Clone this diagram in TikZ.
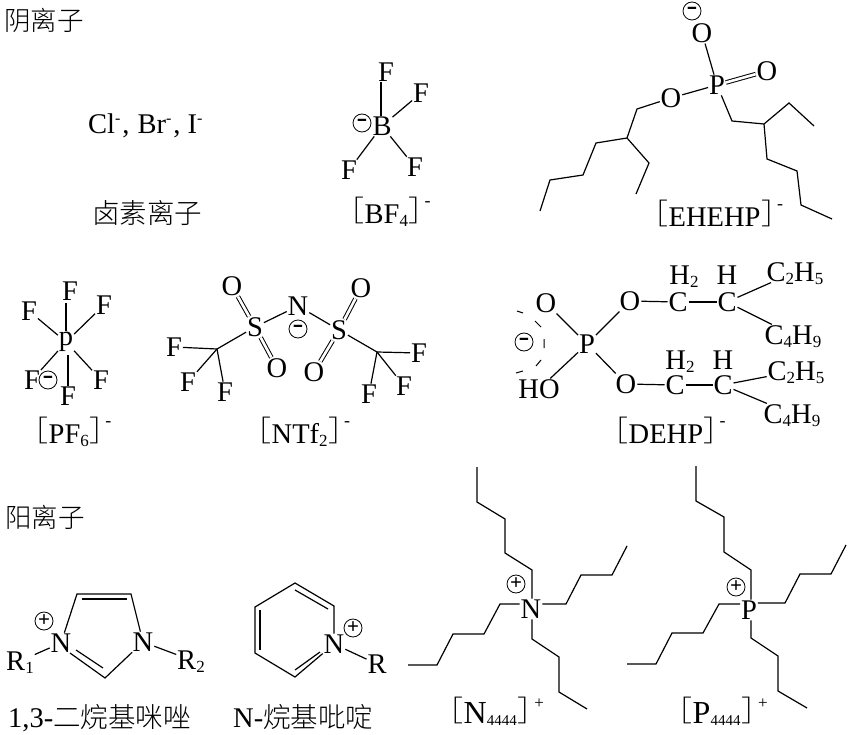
\documentclass[tikz,border=0pt]{standalone}
\usepackage{fontspec}
\setmainfont{Liberation Serif}
\newfontfamily\cjk{Noto Sans CJK SC Light}
\newcommand\sbs[1]{\raisebox{-3.5pt}[0pt][0pt]{\fontsize{17}{17}\selectfont #1}}
\newcommand\sbt[1]{\raisebox{-2.5pt}[0pt][0pt]{\fontsize{15}{15}\selectfont #1}}
\newcommand\lbr{\raisebox{1.5pt}{\fontsize{29}{29}\selectfont\cjk ［}\kern0.5pt}
\newcommand\rbr{\kern0.5pt\raisebox{1.5pt}{\fontsize{29}{29}\selectfont\cjk ］}}
\newcommand\supm{\kern-13pt\raisebox{17pt}{\fontsize{18}{18}\selectfont -}}
\newcommand\supp{\kern-12pt\raisebox{15pt}{\fontsize{17}{17}\selectfont +}}
\newcommand\hsup{\raisebox{10pt}{\fontsize{16}{16}\selectfont -}}
\newcommand\mns{\raisebox{-2pt}{\fontsize{26}{26}\selectfont\bfseries\scalebox{1.25}[1]{-}}}
\tikzset{
  atom/.style={inner sep=1pt,outer sep=0pt,font=\fontsize{28.5}{28.5}\selectfont},
  head/.style={inner sep=0pt,font=\fontsize{26.5}{27}\selectfont\cjk},
  lbl/.style={inner sep=0pt,anchor=base west,font=\fontsize{28.5}{28.5}\selectfont},
  chg/.style={circle,draw,line width=0.8pt,inner sep=0pt,minimum size=18pt,font=\fontsize{21}{21}\selectfont\bfseries},
  bond/.style={line width=1.2pt,line join=miter},
  dbl/.style={double,double distance=2.6pt,line width=1pt},
}
\begin{document}
\begin{tikzpicture}[x=1pt,y=-1pt]
\useasboundingbox (0,0) rectangle (850,735);
% headings
\node[head] (h1) at (44,20) {阴离子};
\node[head] (h2) at (45,517) {阳离子};
% halide
\node[lbl] (hal) at (88,134) {Cl\hsup\kern2pt,\kern8pt Br\hsup\kern2pt,\kern7pt I\hsup};
\node[head,font=\fontsize{27.5}{28}\selectfont\cjk] (hallbl) at (147,213) {卤素离子};
% BF4
\node[atom] (B) at (382,126) {B};
\node[atom] (bf1) at (386,72) {F};
\node[atom] (bf2) at (421,93) {F};
\node[atom] (bf3) at (349,170) {F};
\node[atom] (bf4) at (415,167) {F};
\node[chg] (bfc) at (362,123) {\mns};
\draw[bond] (B.north -| 381,0) -- (bf1.south -| 381,0);
\draw[bond] (B) -- (bf2);
\draw[bond] (B) -- (bf3);
\draw[bond] (B) -- (bf4);
\node[lbl] (bfl) at (335,223) {\lbr BF\sbs{4}\rbr\supm};
% EHEHP
\node[atom] (eP) at (717,85) {P};
\node[atom] (eO1) at (702,33) {O};
\node[atom] (eO2) at (767,71) {O};
\node[atom] (eO3) at (671,98) {O};
\node[chg] (ec) at (692,11) {\mns};
\coordinate (ea1) at (637,109);
\coordinate (ea2) at (627,138);
\coordinate (ea3) at (596,143);
\coordinate (ea4) at (583,175);
\coordinate (ea5) at (550,180);
\coordinate (ea6) at (540,211);
\coordinate (ea7) at (649,163);
\coordinate (ea8) at (636,194);
\coordinate (eb1) at (732,121);
\coordinate (eb2) at (764,124);
\coordinate (eb3) at (789,103);
\coordinate (eb4) at (814,126);
\coordinate (eb5) at (767,159);
\coordinate (eb6) at (797,171);
\coordinate (eb7) at (801,205);
\coordinate (eb8) at (832,219);
\draw[bond] (eO1) -- (eP);
\draw[dbl] (eP) -- (eO2);
\draw[bond] (eP) -- (eO3);
\draw[bond] (eO3) -- (ea1) -- (ea2) -- (ea3) -- (ea4) -- (ea5) -- (ea6);
\draw[bond] (ea2) -- (ea7) -- (ea8);
\draw[bond] (eP) -- (eb1) -- (eb2) -- (eb3) -- (eb4);
\draw[bond] (eb2) -- (eb5) -- (eb6) -- (eb7) -- (eb8);
\node[lbl] (el) at (639,226) {\lbr EHEHP\rbr\supm};
% PF6
\node[atom] (pP) at (66,342) {p};
\node[atom] (pf1) at (70,291) {F};
\node[atom] (pf2) at (29,311) {F};
\node[atom] (pf3) at (104,305) {F};
\node[atom] (pf4) at (32,380) {F};
\node[atom] (pf5) at (101,380) {F};
\node[atom] (pf6) at (68,396) {F};
\node[chg] (pc) at (48,380) {\mns};
\draw[bond] (66,331) -- (66,303);
\draw[bond] (pP) -- (pf2);
\draw[bond] (pP) -- (pf3);
\draw[bond] (pP) -- (pf4);
\draw[bond] (pP) -- (pf5);
\draw[bond] (68,355) -- (pf6.north -| 68,0);
\node[lbl] (pl) at (19,443) {\lbr PF\sbs{6}\rbr\supm};
% NTf2
\node[atom] (nO1) at (232,286) {O};
\node[atom] (nS1) at (255,327) {S};
\node[atom] (nN) at (298,306) {N};
\node[chg] (nc) at (298,329) {\mns};
\node[atom] (nS2) at (339,330) {S};
\node[atom] (nO2) at (361,288) {O};
\node[atom] (nO3) at (277,368) {O};
\node[atom] (nO4) at (314,372) {O};
\coordinate (nC1) at (217,349);
\coordinate (nC2) at (377,352);
\node[atom] (nf1) at (174,347) {F};
\node[atom] (nf2) at (188,382) {F};
\node[atom] (nf3) at (225,392) {F};
\node[atom] (nf4) at (419,353) {F};
\node[atom] (nf5) at (404,386) {F};
\node[atom] (nf6) at (369,394) {F};
\draw[dbl] (nS1) -- (nO1);
\draw[dbl] (nS1) -- (nO3);
\draw[dbl] (nS2) -- (nO2);
\draw[dbl] (nS2) -- (nO4);
\draw[bond] (nS1) -- (nN);
\draw[bond] (nN) -- (nS2);
\draw[bond] (nS1) -- (nC1);
\draw[bond] (nC1) -- (nf1);
\draw[bond] (nC1) -- (nf2);
\draw[bond] (nC1) -- (nf3);
\draw[bond] (nS2) -- (nC2);
\draw[bond] (nC2) -- (nf4);
\draw[bond] (nC2) -- (nf5);
\draw[bond] (nC2) -- (nf6);
\node[lbl] (nl) at (242,443) {\lbr NTf\sbs{2}\rbr\supm};
% DEHP
\node[atom] (dP) at (587,344) {P};
\node[atom] (dO1) at (546,303) {O};
\node[atom] (dHO) at (539,389) {HO};
\node[atom] (dO2) at (630,301) {O};
\node[atom] (dO3) at (626,384) {O};
\node[atom] (dC1) at (678,302) {C};
\node[atom] (dC2) at (727,302) {C};
\node[atom] (dH1) at (684,275) {H\sbs{2}};
\node[atom] (dH2) at (727,275) {H};
\node[atom] (dR1) at (795,272) {C\sbs{2}H\sbs{5}};
\node[atom] (dR2) at (793,335) {C\sbs{4}H\sbs{9}};
\node[atom] (dC3) at (675,385) {C};
\node[atom] (dC4) at (723,385) {C};
\node[atom] (dH3) at (680,360) {H\sbs{2}};
\node[atom] (dH4) at (723,360) {H};
\node[atom] (dR3) at (796,371) {C\sbs{2}H\sbs{5}};
\node[atom] (dR4) at (792,414) {C\sbs{4}H\sbs{9}};
\node[chg] (dc) at (524,342) {\mns};
\draw[bond] (dP) -- (dO1);
\draw[bond] (dP) -- (dHO);
\draw[bond] (dP) -- (dO2);
\draw[bond] (dP) -- (dO3);
\draw[bond] (dO2) -- (dC1);
\draw[bond] (dC1) -- (dC2);
\draw[bond] (dC2) -- (dR1);
\draw[bond] (dC2) -- (dR2);
\draw[bond] (dO3) -- (dC3);
\draw[bond] (dC3) -- (dC4);
\draw[bond] (dC4) -- (dR3);
\draw[bond] (dC4) -- (dR4);
\draw[line width=1pt] (517,311) -- (523,313) (535,321) -- (541,327) (544,339) -- (544,348) (541,360) -- (536,366) (516,373) -- (523,371);
\node[lbl] (dl) at (599,443) {\lbr DEHP\rbr\supm};
% imidazolium
\node[atom] (iN1) at (61,643) {N};
\node[atom] (iN2) at (143,642) {N};
\node[chg] (ic) at (44,621) {+};
\node[atom] (iR1) at (20,661) {R\sbs{1}};
\node[atom] (iR2) at (191,660) {R\sbs{2}};
\coordinate (iA) at (77,594);
\coordinate (iB) at (131,594);
\coordinate (iC) at (105,678);
\coordinate (iAi) at (82,599);
\coordinate (iBi) at (127,599);
\coordinate (iDi) at (76,650);
\coordinate (iCi) at (103,668);
\coordinate (iDo) at (70,653);
\draw[bond] (iN1) -- (iA) -- (iB) -- (iN2);
\draw[bond] (iN2) -- (iC) -- (iDo);
\draw[bond] (iAi) -- (iBi);
\draw[bond] (iDi) -- (iCi);
\draw[bond] (iR1) -- (iN1);
\draw[bond] (iN2) -- (iR2);
\node[lbl] (il) at (8,727) {1,3-{\fontsize{27.5}{28}\selectfont\cjk 二烷基咪唑}};
% pyridinium
\node[atom] (yN) at (334,644) {N};
\node[chg] (yc) at (353,628) {+};
\node[atom] (yR) at (377,664) {R};
\coordinate (yA) at (295,583);
\coordinate (yB) at (334,606);
\coordinate (yC) at (255,607);
\coordinate (yD) at (255,653);
\coordinate (yE) at (295,677);
\coordinate (yA1) at (295,590);
\coordinate (yB1) at (328,609);
\coordinate (yC1) at (260,610);
\coordinate (yD1) at (260,650);
\coordinate (yE1) at (295,670);
\coordinate (yF1) at (320,652);
\draw[bond] (yN) -- (yB) -- (yA) -- (yC) -- (yD) -- (yE) -- (yN);
\draw[bond] (yA1) -- (yB1);
\draw[bond] (yC1) -- (yD1);
\draw[bond] (yE1) -- (yF1);
\draw[bond] (yN) -- (yR);
\node[lbl] (yl) at (233,727) {N-{\fontsize{27.5}{28}\selectfont\cjk 烷基吡啶}};
% N4444
\node[atom] (N4) at (531,609) {N};
\node[chg] (Nc) at (516,584) {+};
\coordinate (Nu1) at (532,570);
\coordinate (Nu2) at (505,553);
\coordinate (Nu3) at (505,519);
\coordinate (Nu4) at (477,502);
\coordinate (Nu5) at (477,467);
\coordinate (Nr1) at (566,604);
\coordinate (Nr2) at (581,575);
\coordinate (Nr3) at (612,575);
\coordinate (Nr4) at (627,546);
\coordinate (Nl1) at (500,604);
\coordinate (Nl2) at (484,634);
\coordinate (Nl3) at (453,634);
\coordinate (Nl4) at (437,665);
\coordinate (Nl5) at (408,665);
\coordinate (Nd1) at (532,639);
\coordinate (Nd2) at (559,657);
\coordinate (Nd3) at (559,692);
\coordinate (Nd4) at (587,709);
\draw[bond] (Nu1 |- N4.north) -- (Nu1) -- (Nu2) -- (Nu3) -- (Nu4) -- (Nu5);
\draw[bond] (Nr1 -| N4.east) -- (Nr1) -- (Nr2) -- (Nr3) -- (Nr4);
\draw[bond] (Nl1 -| N4.west) -- (Nl1) -- (Nl2) -- (Nl3) -- (Nl4) -- (Nl5);
\draw[bond] (Nd1 |- N4.south) -- (Nd1) -- (Nd2) -- (Nd3) -- (Nd4);
\node[lbl] (Nlb) at (434,723) {\lbr{\fontsize{32}{32}\selectfont N}\sbt{4444}\rbr\supp};
% P4444
\node[atom] (P4) at (749,610) {P};
\node[chg] (Pc) at (736,587) {+};
\coordinate (Pu1) at (751,570);
\coordinate (Pu2) at (724,552);
\coordinate (Pu3) at (724,517);
\coordinate (Pu4) at (696,501);
\coordinate (Pu5) at (696,466);
\coordinate (Pr1) at (785,603);
\coordinate (Pr2) at (800,574);
\coordinate (Pr3) at (831,574);
\coordinate (Pr4) at (846,545);
\coordinate (Pl1) at (719,604);
\coordinate (Pl2) at (703,633);
\coordinate (Pl3) at (672,633);
\coordinate (Pl4) at (656,664);
\coordinate (Pl5) at (627,664);
\coordinate (Pd1) at (751,638);
\coordinate (Pd2) at (778,656);
\coordinate (Pd3) at (778,691);
\coordinate (Pd4) at (807,708);
\draw[bond] (Pu1 |- P4.north) -- (Pu1) -- (Pu2) -- (Pu3) -- (Pu4) -- (Pu5);
\draw[bond] (Pr1 -| P4.east) -- (Pr1) -- (Pr2) -- (Pr3) -- (Pr4);
\draw[bond] (Pl1 -| P4.west) -- (Pl1) -- (Pl2) -- (Pl3) -- (Pl4) -- (Pl5);
\draw[bond] (Pd1 |- P4.south) -- (Pd1) -- (Pd2) -- (Pd3) -- (Pd4);
\node[lbl] (Plb) at (663,723) {\lbr{\fontsize{32}{32}\selectfont P}\sbt{4444}\rbr\supp};
\end{tikzpicture}
\end{document}
